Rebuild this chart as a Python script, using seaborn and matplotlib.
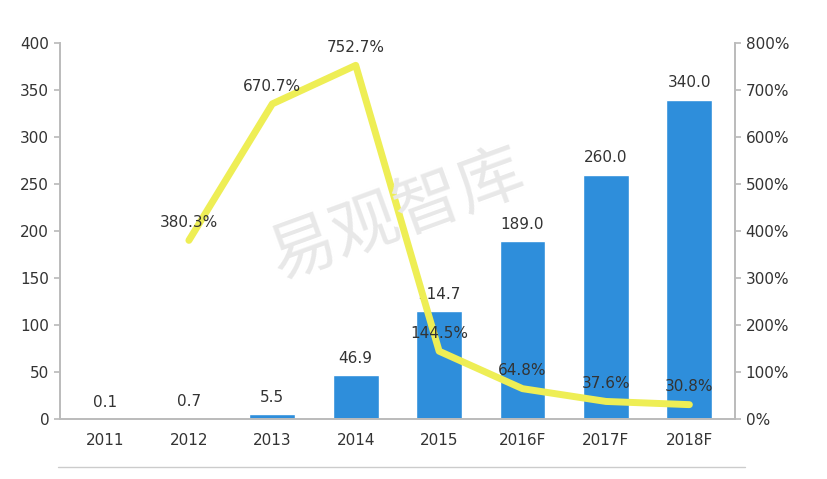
import matplotlib
matplotlib.use("Agg")
import matplotlib.pyplot as plt
import seaborn as sns
import pandas as pd

years = ["2011", "2012", "2013", "2014", "2015", "2016F", "2017F", "2018F"]
values = [0.1, 0.7, 5.5, 46.9, 114.7, 189.0, 260.0, 340.0]
growth_years = ["2012", "2013", "2014", "2015", "2016F", "2017F", "2018F"]
growth = [380.3, 670.7, 752.7, 144.5, 64.8, 37.6, 30.8]

sns.set_theme(style="white")
plt.rcParams['font.family'] = ['DejaVu Sans', 'Noto Sans CJK SC']

fig = plt.figure(figsize=(8.28, 4.79), dpi=100)
ax = fig.add_axes([0.072, 0.125, 0.816, 0.785])
df = pd.DataFrame({"year": years, "value": values})
sns.barplot(data=df, x="year", y="value", color="#2E8EDB", width=0.55, ax=ax, saturation=1)
ax.set_ylim(0, 400)
ax.set_yticks(range(0, 401, 50))
ax.set_xlabel(""); ax.set_ylabel("")
for i, v in enumerate(values):
    ax.text(i, v + 10, f"{v:.1f}", ha="center", va="bottom", fontsize=11, color="#333333")

ax2 = ax.twinx()
xs = [years.index(y) for y in growth_years]
gdf = pd.DataFrame({"x": xs, "g": growth})
sns.lineplot(data=gdf, x="x", y="g", color="#EEEE55", linewidth=5, ax=ax2)
ax2.set_ylim(0, 800)
ax2.set_yticks(range(0, 801, 100))
ax2.set_yticklabels([f"{t}%" for t in range(0, 801, 100)])
ax2.set_xlabel(""); ax2.set_ylabel("")
for x, g in zip(xs, growth):
    ax2.text(x, g + 22, f"{g:.1f}%", ha="center", va="bottom", fontsize=11, color="#333333")

for a in (ax, ax2):
    for s in a.spines.values():
        s.set_color("#BBBBBB")
    a.spines["top"].set_visible(False)
    a.tick_params(labelsize=11, colors="#333333", length=4, color="#BBBBBB")
ax.tick_params(axis="x", length=0, pad=10)
ax2.tick_params(axis="y", direction="out")
ax.set_xlim(-0.55, 7.55)

fig.text(0.48, 0.55, "易观智库", fontsize=48, color="#E8E8E8", rotation=20,
         ha="center", va="center", family=["Noto Sans CJK SC"], zorder=0)
fig.add_artist(plt.Line2D([0.07, 0.9], [0.025, 0.025], color="#CCCCCC", lw=1))
fig.savefig("out.png", dpi=100)
